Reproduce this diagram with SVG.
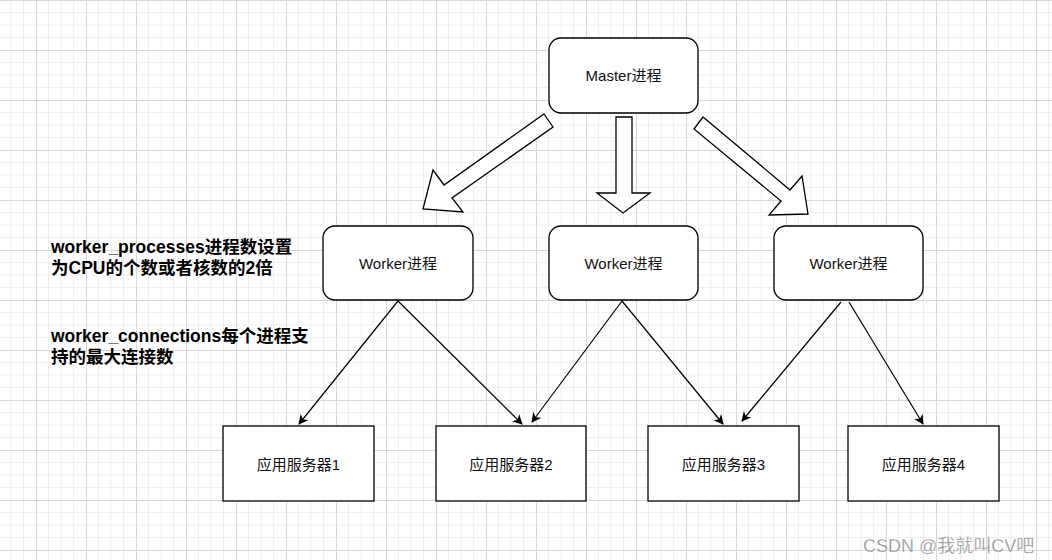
<svg xmlns="http://www.w3.org/2000/svg" width="1052" height="560" viewBox="0 0 1052 560">
<style>
.box{fill:#fff;stroke:#000;stroke-width:1.3}
.lbl{font-family:"Liberation Sans","Noto Sans CJK SC",sans-serif;font-size:15px;fill:#111;text-anchor:middle;dominant-baseline:central}
.note{font-family:"Liberation Sans","Noto Sans CJK SC",sans-serif;font-size:17.5px;font-weight:bold;fill:#000}
.blk{fill:#fff;stroke:#000;stroke-width:1.3;stroke-linejoin:miter}
.con{stroke:#000;stroke-width:1.2;fill:none}
.wm{font-family:"Liberation Sans","Noto Sans CJK SC",sans-serif;font-size:18px;fill:#8a8a8a;stroke:#fff;stroke-width:0.3}
</style>
<defs>
<pattern id="grid" x="36" y="0" width="50" height="50" patternUnits="userSpaceOnUse">
<path d="M12.5 0V50M25 0V50M37.5 0V50M0 12.5H50M0 25H50M0 37.5H50" stroke="#efefef" stroke-width="1" fill="none"/>
<path d="M0.5 0V50M0 0.5H50" stroke="#d8d8d8" stroke-width="1" fill="none"/>
</pattern>
<marker id="ah" viewBox="0 0 10 10" refX="9" refY="5" markerWidth="10" markerHeight="10" markerUnits="userSpaceOnUse" orient="auto">
<path d="M0 0L10 5L0 10L3 5Z" fill="#000"/>
</marker>
</defs>
<rect width="1052" height="560" fill="#fff"/>
<rect width="1052" height="560" fill="url(#grid)"/>

<g id="connectors">
<polygon class="blk" points="544,114 553,127 452,198 463,212 423,209 433,170 444,185"/>
<polygon class="blk" points="616,117 632,117 632,193 650,193 623,213 597,193 616,193"/>
<polygon class="blk" points="703,117 790,190 802,176 808,214 769,215 781,201 694,129"/>
<line class="con" x1="398" y1="301" x2="299" y2="424" marker-end="url(#ah)"/>
<line class="con" x1="398" y1="301" x2="522" y2="424" marker-end="url(#ah)"/>
<line class="con" x1="622" y1="301" x2="532" y2="422" marker-end="url(#ah)"/>
<line class="con" x1="622" y1="301" x2="723" y2="424" marker-end="url(#ah)"/>
<line class="con" x1="841" y1="302" x2="742" y2="421" marker-end="url(#ah)"/>
<line class="con" x1="849" y1="302" x2="923" y2="424" marker-end="url(#ah)"/>
</g>

<g id="master">
<rect class="box" x="549" y="38" width="149" height="75" rx="12"/>
<text class="lbl" x="623.5" y="75.5">Master进程</text>
</g>
<g id="worker1">
<rect class="box" x="323" y="226" width="150" height="74" rx="12"/>
<text class="lbl" x="398" y="263">Worker进程</text>
</g>
<g id="worker2">
<rect class="box" x="549" y="226" width="149" height="74" rx="12"/>
<text class="lbl" x="623.5" y="263">Worker进程</text>
</g>
<g id="worker3">
<rect class="box" x="774" y="226" width="149" height="74" rx="12"/>
<text class="lbl" x="848.5" y="263">Worker进程</text>
</g>
<g id="server1">
<rect class="box" x="223" y="426" width="151" height="75"/>
<text class="lbl" x="298.5" y="464">应用服务器1</text>
</g>
<g id="server2">
<rect class="box" x="436" y="426" width="150" height="75"/>
<text class="lbl" x="511" y="464">应用服务器2</text>
</g>
<g id="server3">
<rect class="box" x="648" y="426" width="151" height="75"/>
<text class="lbl" x="723.5" y="464">应用服务器3</text>
</g>
<g id="server4">
<rect class="box" x="848" y="426" width="151" height="75"/>
<text class="lbl" x="923.5" y="464">应用服务器4</text>
</g>

<g id="note1">
<text class="note" x="51" y="253">worker_processes进程数设置</text>
<text class="note" x="51" y="274">为CPU的个数或者核数的2倍</text>
</g>
<g id="note2">
<text class="note" x="51" y="342">worker_connections每个进程支</text>
<text class="note" x="51" y="363">持的最大连接数</text>
</g>
<text class="wm" x="863" y="552">CSDN @我就叫CV吧</text>
</svg>
